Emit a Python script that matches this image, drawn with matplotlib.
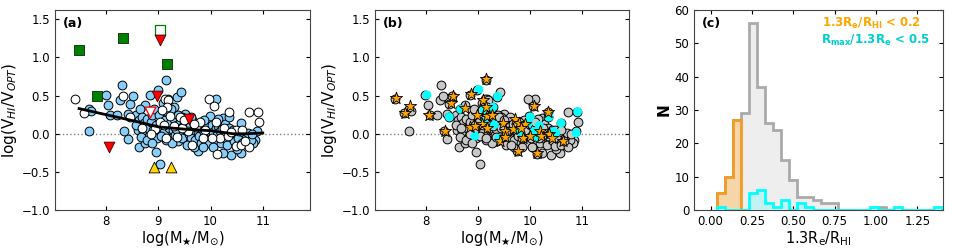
import numpy as np
import matplotlib
matplotlib.use('Agg')
import matplotlib.pyplot as plt

# ---- panel (a)/(b) data: log(M*/Msun) vs log(V_HI/V_OPT)
blue_x = [7.67, 7.71, 7.67, 7.99, 8.04, 8.07, 8.21, 8.30, 8.27, 8.45, 8.51, 8.41, 8.57, 8.35, 8.41,
          8.63, 8.75, 8.75, 8.65, 8.84, 8.99, 9.15, 8.96, 9.04, 9.36, 9.43, 9.51, 9.29, 9.99, 10.10,
          10.24, 10.59, 10.88, 10.85, 10.82, 10.58, 10.40, 10.24, 9.76, 9.69, 9.58, 9.37, 9.24,
          8.62, 8.65, 8.60, 8.68, 8.72, 8.70, 8.78, 8.80, 8.82, 8.85, 8.88, 8.90, 8.92, 8.95, 8.97,
          8.58, 8.66, 8.78, 8.88,
          9.02, 9.05, 9.08, 9.10, 9.12, 9.15, 9.18, 9.20, 9.22, 9.25, 9.28, 9.30, 9.32, 9.35, 9.38,
          9.40, 9.42, 9.45, 9.48, 9.05, 9.12, 9.18, 9.27, 9.34, 9.45,
          9.52, 9.55, 9.58, 9.60, 9.62, 9.65, 9.68, 9.70, 9.72, 9.75, 9.78, 9.80, 9.82, 9.85, 9.88,
          9.90, 9.92, 9.95, 9.97, 9.62, 9.88, 9.55, 9.85,
          10.02, 10.05, 10.08, 10.10, 10.12, 10.15, 10.18, 10.20, 10.22, 10.25, 10.28, 10.30, 10.32,
          10.35, 10.38, 10.42, 10.45, 10.48, 10.52, 10.55, 10.60, 10.62, 10.68, 10.72, 10.78, 10.80,
          10.35, 10.15, 10.05, 10.50]
blue_y = [0.33, 0.30, 0.04, 0.51, 0.38, 0.24, 0.24, 0.64, 0.44, 0.39, 0.49, 0.26, 0.25, 0.04, -0.07,
          -0.17, -0.12, 0.38, 0.32, 0.51, 0.57, 0.71, -0.24, -0.39, 0.48, 0.55, 0.26, 0.35, 0.23, 0.46,
          0.21, 0.14, 0.03, -0.08, -0.12, -0.25, -0.28, -0.25, -0.22, -0.18, -0.12, -0.10, -0.05,
          0.18, 0.10, 0.05, 0.22, 0.14, 0.02, 0.20, 0.08, -0.03, 0.15, 0.25, 0.05, 0.32, 0.12, -0.06,
          0.12, -0.04, -0.08, -0.12,
          0.25, 0.10, 0.40, 0.02, 0.18, -0.08, 0.28, 0.08, 0.14, 0.32, 0.05, 0.20, -0.02, 0.12, 0.25,
          0.02, 0.16, -0.05, 0.10, -0.03, 0.30, 0.45, -0.12, 0.06, 0.22,
          0.05, 0.15, 0.00, 0.10, -0.05, 0.18, 0.05, -0.08, 0.12, 0.02, -0.03, 0.08, -0.12, 0.14, 0.02,
          -0.07, 0.10, 0.03, -0.12, 0.22, 0.18, -0.15, -0.18,
          0.12, 0.02, -0.10, 0.08, -0.02, 0.10, 0.03, -0.12, 0.06, -0.05, 0.13, 0.00, -0.15,
          0.08, -0.03, 0.05, -0.10, 0.00, -0.05, 0.04, -0.12, 0.02, -0.06, 0.01, -0.08, 0.00,
          0.22, 0.20, -0.18, -0.20]

white_x = [7.41, 7.58, 8.33, 9.97, 10.06, 10.35, 10.73, 10.90, 10.92, 9.13, 9.19, 9.17, 9.07, 9.64,
           10.13, 10.48, 10.59, 10.74, 10.18, 10.48, 9.41, 8.68, 9.15, 8.94, 9.03, 9.22, 9.57, 9.73,
           9.80, 10.02, 10.34, 8.45, 8.85, 9.30, 9.45, 9.68, 9.90, 10.25, 10.40, 10.60, 10.65, 9.35,
           9.10, 9.85, 10.10, 9.50]
white_y = [0.46, 0.27, 0.50, 0.46, 0.36, 0.28, 0.28, 0.28, 0.15, 0.46, 0.44, 0.35, 0.31, -0.15,
           -0.26, -0.16, -0.15, -0.17, -0.05, 0.05, 0.22, 0.07, -0.05, 0.06, 0.16, 0.23, 0.03, 0.09,
           0.16, -0.06, -0.03, 0.22, 0.00, 0.10, 0.08, 0.13, 0.05, 0.08, 0.02, 0.05, -0.10, -0.04,
           0.12, -0.05, 0.15, 0.18]

green_x = [7.48, 8.32, 9.16, 7.82]
green_y = [1.10, 1.26, 0.92, 0.50]
green_open_x = [9.03]
green_open_y = [1.36]
red_x = [9.03, 8.06, 8.97, 9.59]
red_y = [1.23, -0.18, 0.49, 0.19]
red_open_x = [8.83]
red_open_y = [0.29]
gold_x = [8.92, 9.25]
gold_y = [-0.44, -0.44]

# running median curve
med_x = [7.48, 8.0, 8.52, 9.0, 9.51, 10.0, 10.43, 10.69, 11.0]
med_y = [0.33, 0.25, 0.17, 0.09, 0.06, 0.04, 0.0, 0.0, 0.01]

star_x = [7.43, 7.59, 7.70, 8.06, 8.36, 8.48, 8.53, 8.76, 8.86, 8.84, 9.16, 8.99, 9.10, 9.07, 9.18,
          9.28, 9.16, 9.18, 9.42, 9.49, 9.53, 9.71, 9.68, 9.78, 9.80, 9.86, 9.90, 10.00, 10.07, 10.13,
          10.20, 10.21, 10.35, 10.37, 10.42, 10.64, 9.52, 8.94, 9.83]
star_y = [0.47, 0.27, 0.36, 0.24, 0.04, 0.40, 0.50, 0.34, 0.52, 0.09, 0.72, 0.24, 0.44, 0.13, 0.23,
          0.24, 0.35, 0.08, -0.10, 0.14, 0.03, 0.20, 0.06, -0.22, 0.14, -0.06, 0.13, -0.03, 0.37, -0.25,
          0.03, -0.03, 0.29, 0.00, -0.05, -0.09, -0.04, 0.10, 0.08]

cyan_x = [8.02, 8.45, 8.67, 9.02, 8.94, 9.12, 9.12, 9.29, 9.32, 9.38, 9.40, 9.81, 9.97, 10.01, 10.08,
          10.18, 10.15, 10.37, 10.50, 10.60, 10.89, 10.92, 10.45]
cyan_y = [0.51, 0.22, 0.32, 0.58, -0.03, 0.32, 0.15, 0.35, 0.12, 0.49, -0.06, 0.03, 0.14, 0.22, 0.03,
          0.11, -0.04, 0.22, 0.01, 0.14, 0.01, 0.29, 0.03]

# ---- panel (c) histogram: 1.3Re/RHI
bin_edges = np.linspace(0.038, 1.40, 29)
n_all = [5, 10, 27, 29, 56, 37, 26, 24, 15, 9, 4, 4, 3, 2, 2, 0, 0, 0, 0, 0, 1, 0, 0, 0, 0, 0, 0, 0]
n_orange = [5, 10, 27, 0, 0, 0, 0, 0, 0, 0, 0, 0, 0, 0, 0, 0, 0, 0, 0, 0, 0, 0, 0, 0, 0, 0, 0, 0]
n_cyan = [1, 0, 0, 0, 5, 6, 2, 1, 3, 0, 2, 1, 0, 0, 0, 0, 0, 0, 0, 1, 0, 0, 1, 0, 0, 0, 0, 1]

plt.rcParams['font.size'] = 8.5
plt.rcParams['mathtext.default'] = 'it'

fig = plt.figure(figsize=(9.54, 2.48), dpi=100)
ax1 = fig.add_axes([0.0577, 0.153, 0.267, 0.806])
ax2 = fig.add_axes([0.393, 0.153, 0.266, 0.806])
ax3 = fig.add_axes([0.7275, 0.153, 0.261, 0.806])

ylab = r'log(V$_{HI}$/V$_{OPT}$)'
xlab = r'log(M$_{\bigstar}$/M$_{\odot}$)'

for ax in (ax1, ax2, ax3):
    ax.tick_params(direction='in', top=True, right=True, length=3, width=0.8)
    for s in ax.spines.values():
        s.set_linewidth(0.8)
        s.set_color('#444444')

# (a)
ax1.axhline(0, color='gray', ls=':', lw=1, zorder=1)
ax1.scatter(blue_x, blue_y, s=40, c='lightskyblue', edgecolors='black', linewidths=0.7, zorder=2)
ax1.scatter(white_x, white_y, s=40, c='white', edgecolors='black', linewidths=0.7, zorder=2)
ax1.plot(med_x, med_y, color='black', lw=2, zorder=3)
ax1.scatter(green_x, green_y, s=55, marker='s', c='green', edgecolors='#1a3a1a', linewidths=0.7, zorder=4)
ax1.scatter(green_open_x, green_open_y, s=55, marker='s', c='white', edgecolors='green', linewidths=0.9, zorder=4)
ax1.scatter(red_x, red_y, s=60, marker='v', c='red', edgecolors='#400000', linewidths=0.6, zorder=4)
ax1.scatter(red_open_x, red_open_y, s=60, marker='v', c='white', edgecolors='red', linewidths=0.9, zorder=4)
ax1.scatter(gold_x, gold_y, s=60, marker='^', c='gold', edgecolors='black', linewidths=0.6, zorder=4)
ax1.text(0.03, 0.965, '(a)', transform=ax1.transAxes, va='top', ha='left', fontweight='bold', fontsize=9)

# (b)
all_x = blue_x + white_x
all_y = blue_y + white_y
ax2.axhline(0, color='gray', ls=':', lw=1, zorder=1)
ax2.scatter(all_x, all_y, s=40, c='#c8c8c8', edgecolors='black', linewidths=0.7, zorder=2)
ax2.scatter(cyan_x, cyan_y, s=40, c='cyan', edgecolors='none', zorder=3)
ax2.scatter(star_x, star_y, s=85, marker='*', c='orange', edgecolors='black', linewidths=0.6, zorder=4)
ax2.text(0.03, 0.965, '(b)', transform=ax2.transAxes, va='top', ha='left', fontweight='bold', fontsize=9)

for ax in (ax1, ax2):
    ax.set_xlim(7.02, 11.9)
    ax.set_ylim(-1.0, 1.62)
    ax.set_xticks([8, 9, 10, 11])
    ax.set_yticks([-1.0, -0.5, 0.0, 0.5, 1.0, 1.5])
    ax.set_xlabel(xlab, fontsize=10.5, labelpad=1)
    ax.set_ylabel(ylab, fontsize=11, labelpad=2)

# (c)
ax3.stairs(n_all, bin_edges, fill=True, color='#eeeeee', zorder=1)
ax3.stairs(n_all, bin_edges, color='#aaaaaa', lw=2, zorder=2)
ax3.stairs(n_orange, bin_edges, fill=True, color='#f6d6a8', zorder=3)
ax3.stairs(n_orange, bin_edges, color='#f39a25', lw=2, zorder=4)
ax3.stairs(n_cyan, bin_edges, fill=True, color='#c2f2f2', zorder=5)
ax3.stairs(n_cyan, bin_edges, color='cyan', lw=2, zorder=6)
ax3.set_xlim(-0.1, 1.405)
ax3.set_ylim(0, 60)
ax3.set_xticks([0.0, 0.25, 0.5, 0.75, 1.0, 1.25])
ax3.set_xticklabels(['0.00', '0.25', '0.50', '0.75', '1.00', '1.25'])
ax3.set_yticks([0, 10, 20, 30, 40, 50, 60])
ax3.set_xlabel(r'1.3R$_{\mathrm{e}}$/R$_{\mathrm{HI}}$', fontsize=10.5, labelpad=1)
ax3.set_ylabel('N', fontsize=11, fontweight='bold', labelpad=2)
ax3.text(0.03, 0.965, '(c)', transform=ax3.transAxes, va='top', ha='left', fontweight='bold', fontsize=9)
ax3.text(0.515, 0.935, r'1.3R$_{\mathbf{e}}$/R$_{\mathbf{HI}}$ < 0.2', transform=ax3.transAxes,
         color='orange', fontweight='bold', fontsize=8.5, va='center', ha='left')
ax3.text(0.51, 0.85, r'R$_{\mathbf{max}}$/1.3R$_{\mathbf{e}}$ < 0.5', transform=ax3.transAxes,
         color='darkturquoise', fontweight='bold', fontsize=8.5, va='center', ha='left')

fig.savefig('out.png', dpi=100)
